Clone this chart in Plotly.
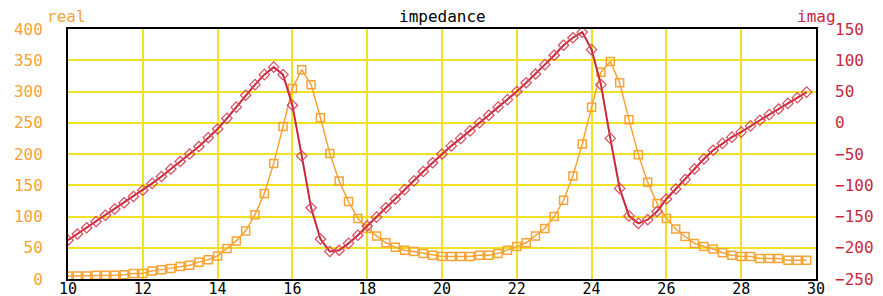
import plotly.graph_objects as go

# frequency samples
freq = [10 + 0.25 * i for i in range(80)]

# real part (left axis)
real = [5, 5, 5, 6, 6, 6, 7, 9, 9, 13,
        15, 17, 20, 22, 27, 31, 37, 49, 61, 77,
        103, 137, 185, 244, 305, 335, 311, 258, 201, 157,
        124, 97, 81, 69, 58, 51, 46, 44, 41, 38,
        36, 36, 36, 36, 38, 38, 41, 46, 52, 58,
        69, 81, 100, 126, 165, 216, 275, 331, 348, 314,
        255, 199, 155, 121, 97, 80, 68, 57, 52, 48,
        42, 38, 36, 36, 33, 33, 33, 30, 30, 30]

# imaginary part (right axis)
imag = [-188, -178, -168, -158, -148, -138, -128, -118, -108, -97,
        -86, -74, -62, -50, -38, -24, -10, 7, 25, 44,
        61, 77, 89, 77, 28, -53, -136, -186, -206, -204,
        -193, -180, -165, -151, -136, -122, -107, -93, -78, -64,
        -50, -37, -25, -13, 0, 12, 25, 37, 50, 64,
        78, 93, 108, 124, 136, 145, 117, 61, -25, -105,
        -149, -161, -155, -142, -122, -106, -91, -74, -58, -44,
        -33, -23, -15, -5, 4, 13, 22, 31, 40, 49]

left_ticks = [0, 50, 100, 150, 200, 250, 300, 350, 400]
right_ticks = [-250, -200, -150, -100, -50, 0, 50, 100, 150]
x_ticks = [10, 12, 14, 16, 18, 20, 22, 24, 26, 28, 30]

ORANGE = "#f7a336"
RED = "#c8283c"
RED_MK = "#d84a5c"
GRID = "#f2e024"
FONT = "DejaVu Sans Mono"
FS = 16

# page body has an 8px margin, so the figure is sized/placed to compensate
W, H = 875, 288
L, R, T, B = 60, 67, 21, 17
PW = W - L - R

fig = go.Figure()
fig.add_trace(go.Scatter(
    x=freq, y=real, mode="lines+markers",
    line=dict(color=ORANGE, width=1.5),
    marker=dict(symbol="square-open", size=8, color=ORANGE, line=dict(width=1.5)),
    yaxis="y", showlegend=False))
fig.add_trace(go.Scatter(
    x=freq, y=imag, mode="lines+markers",
    line=dict(color=RED, width=2),
    marker=dict(symbol="diamond-open", size=8, color=RED_MK, line=dict(width=1.2)),
    yaxis="y2", showlegend=False))

fig.update_layout(
    template="none",
    width=W, height=H,
    margin=dict(l=L, r=R, t=T, b=B, autoexpand=False),
    paper_bgcolor="white", plot_bgcolor="white",
    font=dict(family=FONT, size=FS),
    xaxis=dict(range=[10, 30], tickvals=x_ticks, showgrid=True, gridcolor=GRID, gridwidth=2,
               showline=True, linecolor="black", linewidth=2, mirror=True,
               zeroline=False, ticks="", ticklabelstandoff=-5, automargin=False,
               tickfont=dict(color="black", size=15, family=FONT)),
    yaxis=dict(range=[0, 400], tickvals=left_ticks, showgrid=True, gridcolor=GRID, gridwidth=2,
               showline=True, linecolor="black", linewidth=2, mirror=True,
               zeroline=False, ticks="", ticklabelstandoff=20, automargin=False,
               tickfont=dict(color=ORANGE, size=FS, family=FONT)),
    yaxis2=dict(range=[-250, 150], tickvals=right_ticks, overlaying="y", side="right",
                showgrid=False, zeroline=False, showline=False, ticks="",
                ticklabelstandoff=18, automargin=False,
                tickfont=dict(color=RED, size=FS, family=FONT)),
    annotations=[
        dict(text="impedance", xref="paper", yref="paper", x=0.5, y=1.048,
             xanchor="center", yanchor="middle", showarrow=False,
             font=dict(color="black", size=FS, family=FONT)),
        dict(text="real", xref="paper", yref="paper", x=20 / PW, y=1.05,
             xanchor="right", yanchor="middle", showarrow=False,
             font=dict(color=ORANGE, size=FS, family=FONT)),
        dict(text="imag", xref="paper", yref="paper", x=(838 - 68) / PW, y=1.05,
             xanchor="right", yanchor="middle", showarrow=False,
             font=dict(color=RED, size=FS, family=FONT)),
    ],
)

fig.write_html("out.html")
